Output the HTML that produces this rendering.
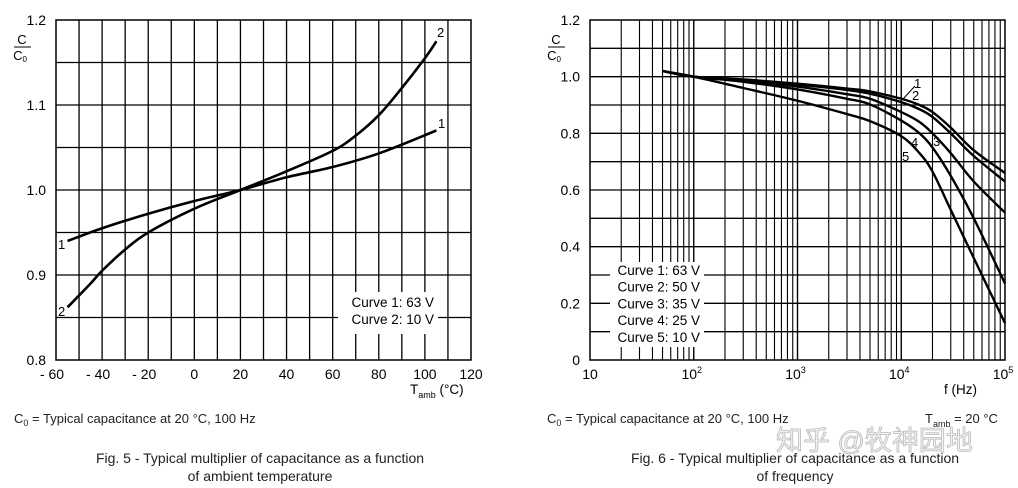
<!DOCTYPE html>
<html><head><meta charset="utf-8"><style>
body{margin:0;background:#fff}
svg{display:block;font-family:"Liberation Sans","Noto Sans CJK SC",sans-serif}
</style></head><body>
<svg id="s" width="1018" height="488" viewBox="0 0 1018 488">
<g id="L"></g>
<g id="R"></g>
<g font-size="13" fill="#222">
<text x="14" y="423">C<tspan font-size="9" dy="3">0</tspan><tspan dy="-3"> = Typical capacitance at 20 °C, 100 Hz</tspan></text>
<text x="547" y="423">C<tspan font-size="9" dy="3">0</tspan><tspan dy="-3"> = Typical capacitance at 20 °C, 100 Hz</tspan></text>
<text x="925" y="423">T<tspan font-size="9" dy="4">amb</tspan><tspan dy="-4"> = 20 °C</tspan></text>
<text x="776" y="450" font-size="27" fill="#f4f4f4" stroke="#bbb" stroke-width="0.8">知乎 @牧神园地</text>
<text x="260" y="463" text-anchor="middle" font-size="14">Fig. 5 - Typical multiplier of capacitance as a function</text>
<text x="260" y="481" text-anchor="middle" font-size="14">of ambient temperature</text>
<text x="795" y="463" text-anchor="middle" font-size="14">Fig. 6 - Typical multiplier of capacitance as a function</text>
<text x="795" y="481" text-anchor="middle" font-size="14">of frequency</text>
</g>
</svg>
<script>
// Left chart data
const tempTicks=[-60,-40,-20,0,20,40,60,80,100,120];
const tempYTicks=[0.8,0.9,1.0,1.1,1.2];
const c1T=[-55,-40,-20,0,20,40,60,80,105];
const c1V=[0.94,0.955,0.972,0.987,1.0,1.015,1.027,1.043,1.07];
const c2T=[-55,-45,-40,-30,-20,0,20,40,60,70,80,90,100,105];
const c2V=[0.862,0.89,0.905,0.93,0.95,0.978,1.0,1.022,1.046,1.064,1.088,1.12,1.155,1.175];
// Right chart data
const freqTickExp=[1,2,3,4,5];
const freqYTicks=[0,0.2,0.4,0.6,0.8,1.0,1.2];
const fF=[50,100,300,1000,3000,5000,10000,15000,20000,30000,50000,100000];
const f1V=[1.02,1.0,0.99,0.975,0.958,0.948,0.922,0.9,0.875,0.82,0.74,0.66];
const f2V=[1.02,1.0,0.988,0.972,0.953,0.94,0.91,0.885,0.858,0.80,0.72,0.63];
const f3V=[1.02,1.0,0.985,0.965,0.938,0.922,0.875,0.84,0.80,0.73,0.63,0.52];
const f4V=[1.02,1.0,0.982,0.955,0.922,0.902,0.845,0.80,0.75,0.65,0.50,0.27];
const f5V=[1.02,1.0,0.96,0.915,0.868,0.843,0.79,0.73,0.665,0.53,0.36,0.13];

const NS='http://www.w3.org/2000/svg';
function mk(p,t,a,txt){const e=document.createElementNS(NS,t);for(const k in a)e.setAttribute(k,a[k]);if(txt!=null)e.textContent=txt;p.appendChild(e);return e;}
function smooth(xs,ys,fx,fy){const P=xs.map((x,i)=>[fx(x),fy(ys[i])]);let d='M'+P[0][0]+','+P[0][1];for(let i=0;i<P.length-1;i++){const p0=P[i-1]||P[i],p1=P[i],p2=P[i+1],p3=P[i+2]||p2;d+=`C${p1[0]+(p2[0]-p0[0])/6},${p1[1]+(p2[1]-p0[1])/6} ${p2[0]-(p3[0]-p1[0])/6},${p2[1]-(p3[1]-p1[1])/6} ${p2[0]},${p2[1]}`;}return d;}

// LEFT
const L=document.getElementById('L');
const lx=v=>56+(v+60)/180*415, ly=v=>360-(v-0.8)/0.4*340;
for(let t=-50;t<120;t+=10){const g=mk(L,'line',{x1:lx(t),x2:lx(t),y1:20,y2:360,stroke:'#000','stroke-width':1.3});}
for(let v=0.85;v<1.19;v+=0.05){const g=mk(L,'line',{x1:56,x2:471,y1:ly(v),y2:ly(v),stroke:'#000','stroke-width':1.3});}
let r=mk(L,'rect',{x:56,y:20,width:415,height:340,fill:'none',stroke:'#000','stroke-width':1.5});
r=mk(L,'rect',{x:338,y:292,width:100,height:42,fill:'#fff'});
let t=mk(L,'text',{x:434,y:307,'text-anchor':'end','font-size':13.5},'Curve 1: 63 V');
t=mk(L,'text',{x:434,y:324,'text-anchor':'end','font-size':13.5},'Curve 2: 10 V');
tempTicks.forEach(v=>{const e=mk(L,'text',{x:lx(v)+(v<0?-4:0),y:379,'text-anchor':'middle','font-size':14},(v<0?'- '+(-v):String(v)));});
tempYTicks.forEach(v=>{const e=mk(L,'text',{x:46,y:ly(v)+5,'text-anchor':'end','font-size':14},v.toFixed(1));});
let p=mk(L,'path',{d:smooth(c1T,c1V,lx,ly),fill:'none',stroke:'#000','stroke-width':2.6});
p=mk(L,'path',{d:smooth(c2T,c2V,lx,ly),fill:'none',stroke:'#000','stroke-width':2.6});
[[58,249,'1'],[58,316,'2'],[437,37,'2'],[438,128,'1']].forEach(a=>{const e=mk(L,'text',{x:a[0],y:a[1],'font-size':13},a[2]);});
t=mk(L,'text',{x:410,y:394,'font-size':13.5},'T');
mk(t,'tspan',{'font-size':9,dy:4},'amb');mk(t,'tspan',{dy:-4},' (°C)');
t=mk(L,'text',{x:22,y:44,'text-anchor':'middle','font-size':13},'C');
mk(L,'line',{x1:14,x2:31,y1:47,y2:47,stroke:'#000','stroke-width':1});
t=mk(L,'text',{x:20,y:60,'text-anchor':'middle','font-size':13},'C');mk(t,'tspan',{'font-size':8,dy:2},'0');

// RIGHT
const R=document.getElementById('R');
const rx=f=>590+(Math.log10(f)-1)*103.75, ry=v=>360-v/1.2*340;
for(let e=1;e<5;e++)for(let m=1;m<10;m++){const f=m*Math.pow(10,e);if(f===10)continue;const g=mk(R,'line',{x1:rx(f),x2:rx(f),y1:20,y2:360,stroke:'#000','stroke-width':m===1?1.4:1.1});}
for(let v=0.1;v<1.19;v+=0.1){const g=mk(R,'line',{x1:590,x2:1005,y1:ry(v),y2:ry(v),stroke:'#000','stroke-width':1.3});}
r=mk(R,'rect',{x:590,y:20,width:415,height:340,fill:'none',stroke:'#000','stroke-width':1.5});
r=mk(R,'rect',{x:610,y:262,width:94,height:85,fill:'#fff'});
['Curve 1: 63 V','Curve 2: 50 V','Curve 3: 35 V','Curve 4: 25 V','Curve 5: 10 V'].forEach((s,i)=>{const e=mk(R,'text',{x:700,y:275+i*16.7,'text-anchor':'end','font-size':13.5},s);});
freqTickExp.forEach(e=>{const x=rx(Math.pow(10,e));let tt;if(e===1){tt=mk(R,'text',{x:x,y:379,'text-anchor':'middle','font-size':14},'10');}else{tt=mk(R,'text',{x:x-2,y:379,'text-anchor':'middle','font-size':14},'10');mk(tt,'tspan',{'font-size':9,dy:-6},String(e));}});
freqYTicks.forEach(v=>{const e=mk(R,'text',{x:580,y:ry(v)+5,'text-anchor':'end','font-size':14},v===0?'0':v.toFixed(1));});
[f1V,f2V,f3V,f4V,f5V].forEach((arr,i)=>{const q=mk(R,'path',{d:smooth(fF,arr,rx,ry),fill:'none',stroke:'#000','stroke-width':2.4});});
mk(R,'line',{x1:903,x2:915,y1:99,y2:86,stroke:'#000','stroke-width':1});
[[914,88,'1'],[912,100,'2'],[933,146,'3'],[911,147,'4'],[902,161,'5']].forEach(a=>{const e=mk(R,'text',{x:a[0],y:a[1],'font-size':13},a[2]);});
t=mk(R,'text',{x:944,y:394,'font-size':13.5},'f (Hz)');
t=mk(R,'text',{x:556,y:44,'text-anchor':'middle','font-size':13},'C');
mk(R,'line',{x1:548,x2:565,y1:47,y2:47,stroke:'#000','stroke-width':1});
t=mk(R,'text',{x:554,y:60,'text-anchor':'middle','font-size':13},'C');mk(t,'tspan',{'font-size':8,dy:2},'0');
</script>
</body></html>
